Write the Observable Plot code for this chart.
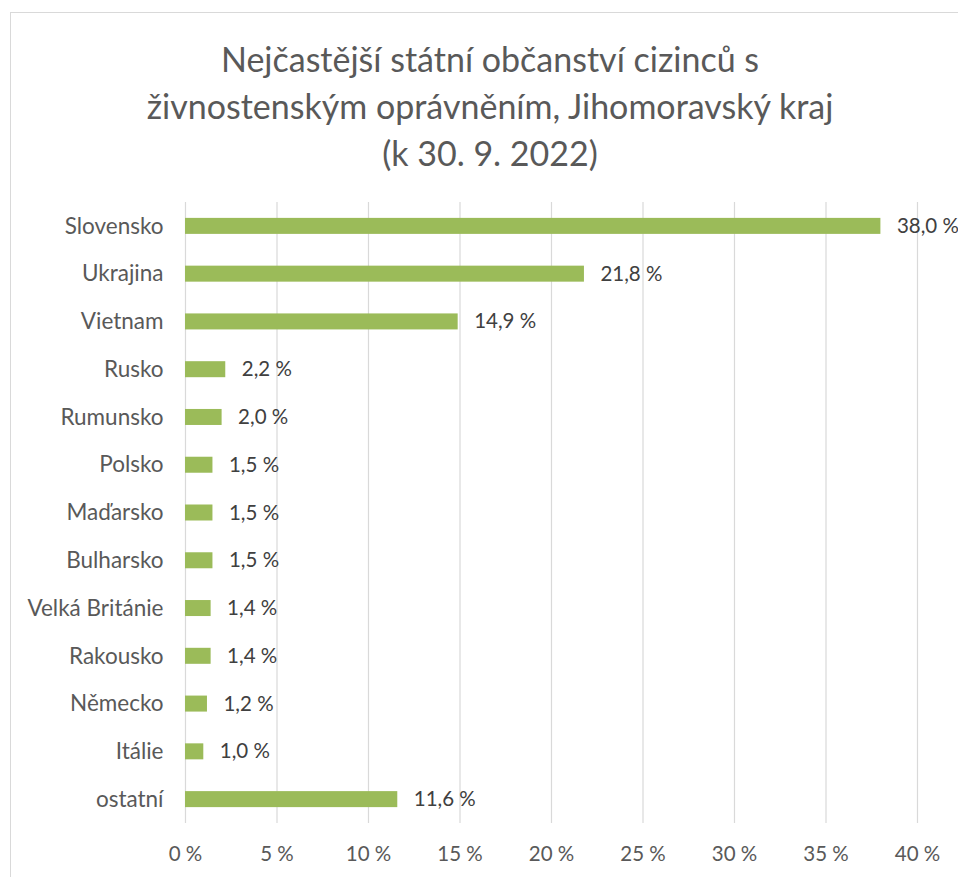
<!DOCTYPE html>
<html>
<head>
<meta charset="utf-8">
<script src="https://cdn.jsdelivr.net/npm/d3@7"></script>
<script src="https://cdn.jsdelivr.net/npm/@observablehq/plot@0.6"></script>
<style>
  html, body { margin: 0; padding: 0; background: #fff; }
  #wrap { position: relative; width: 958px; height: 877px; overflow: hidden; font-family: Lato, "Open Sans", sans-serif; }
  #frame { position: absolute; left: 10px; top: 12px; width: 1000px; height: 900px; border-left: 1px solid #d9d9d9; border-top: 1px solid #d9d9d9; box-sizing: border-box; }
  #title { position: absolute; left: 0; top: 35px; width: 980px; text-align: center; color: #595959; font-size: 34px; line-height: 47px; }
  #chart { position: absolute; left: 0; top: 180px; }
</style>
</head>
<body>
<div id="wrap">
  <div id="frame"></div>
  <div id="title">Nejčastější státní občanství cizinců s<br>živnostenským oprávněním, Jihomoravský kraj<br>(k 30. 9. 2022)</div>
  <div id="chart"></div>
</div>
<script>
const categories = ["Slovensko", "Ukrajina", "Vietnam", "Rusko", "Rumunsko", "Polsko", "Maďarsko", "Bulharsko", "Velká Británie", "Rakousko", "Německo", "Itálie", "ostatní"];
const values = [38.0, 21.8, 14.9, 2.2, 2.0, 1.5, 1.5, 1.5, 1.4, 1.4, 1.2, 1.0, 11.6];
const xTicks = [0, 5, 10, 15, 20, 25, 30, 35, 40];

const data = categories.map((c, i) => ({country: c, value: values[i]}));
const fmtPct = v => v.toFixed(1).replace(".", ",") + " %";

const plot = Plot.plot({
  width: 958,
  height: 697,
  marginTop: 22,
  marginBottom: 54,
  marginLeft: 185,
  marginRight: 41,
  style: {fontFamily: "Lato, 'Open Sans', sans-serif", fontSize: "20px", color: "#595959", background: "transparent", overflow: "visible"},
  x: {domain: [0, 40], ticks: xTicks, tickFormat: d => d + " %", label: null},
  y: {domain: categories, paddingInner: 0.665, paddingOuter: 0.3325, round: false, label: null},
  marks: [
    Plot.gridX(xTicks, {stroke: "#d9d9d9", strokeOpacity: 1, strokeWidth: 1.2}),
    Plot.axisX({ticks: xTicks, tickFormat: d => d + " %", tickSize: 0, tickPadding: 23, fontSize: 20.5, fill: "#595959", label: null}),
    Plot.axisY({tickSize: 0, tickPadding: 22, fontSize: 22.5, fill: "#595959", label: null}),
    Plot.barX(data, {x: "value", y: "country", fill: "#9bbb59"}),
    Plot.text(data, {x: "value", y: "country", text: d => fmtPct(d.value), textAnchor: "start", dx: 16, fontSize: 20.5, fill: "#404040"})
  ]
});
document.getElementById("chart").appendChild(plot);
</script>
</body>
</html>
